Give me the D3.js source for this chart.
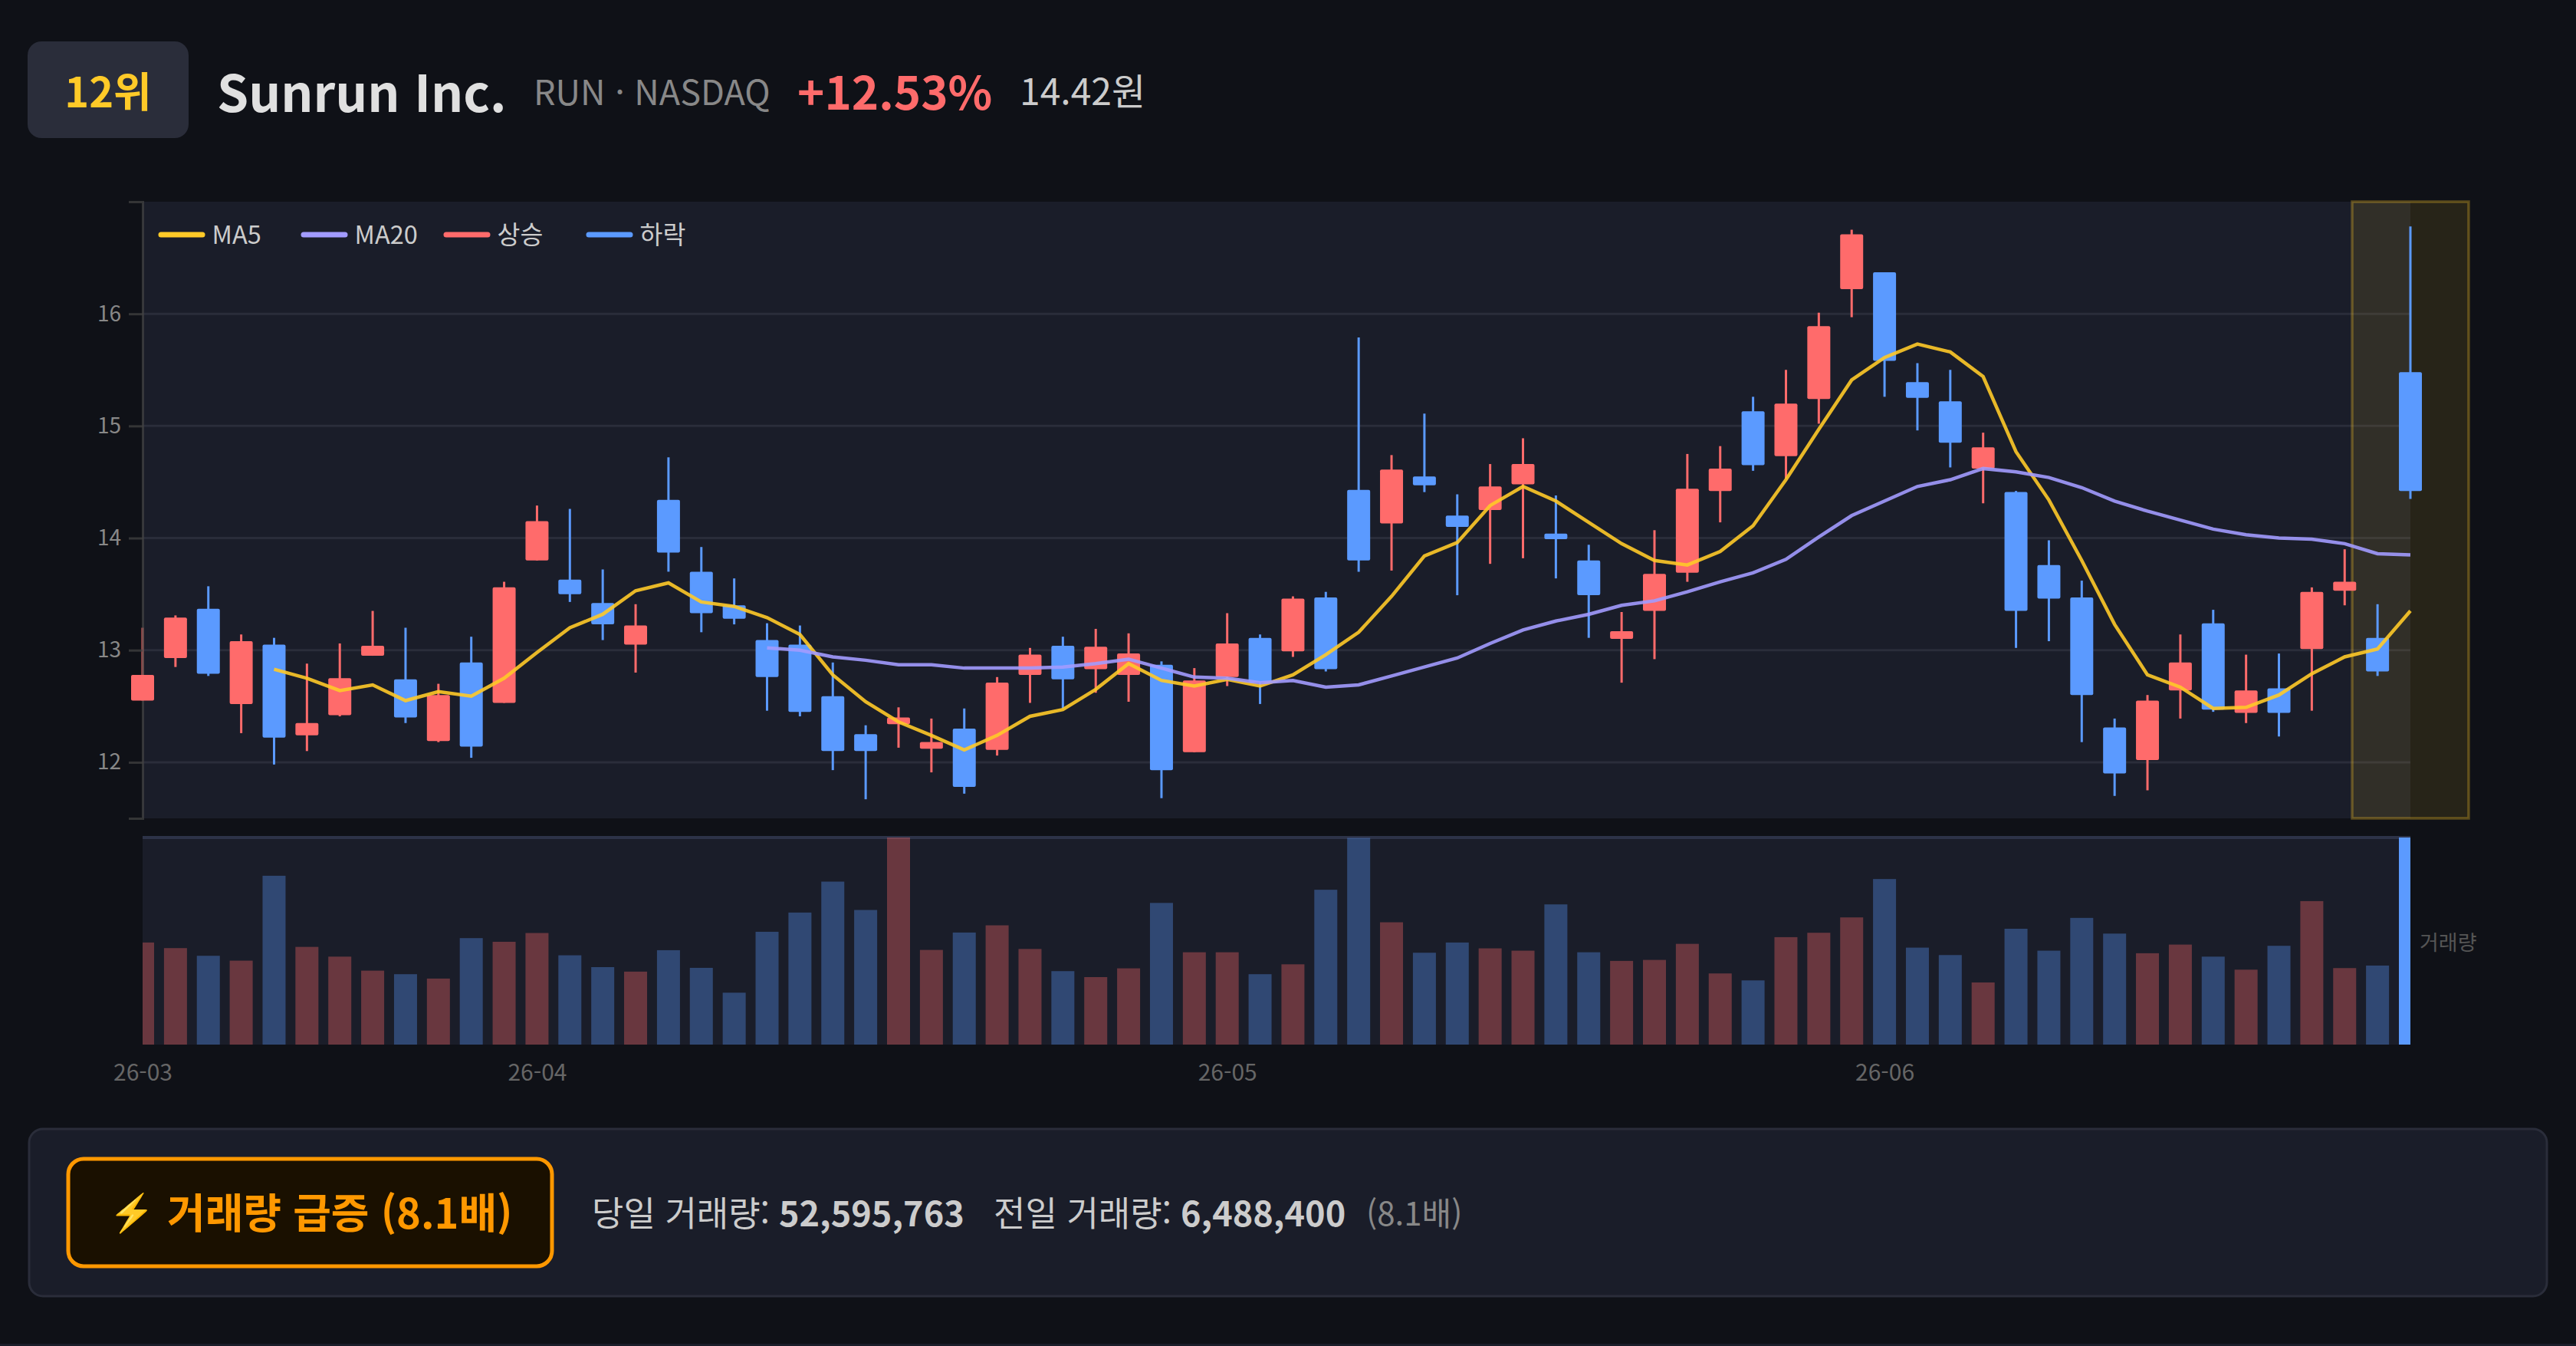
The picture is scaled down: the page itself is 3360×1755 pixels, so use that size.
<!DOCTYPE html>
<html lang="ko">
<head>
<meta charset="utf-8">
<title>Sunrun Inc.</title>
<script src="https://cdn.jsdelivr.net/npm/d3@7"></script>
<style>
  html, body { margin: 0; padding: 0; background: #0f1117; }
  svg { display: block; }
  text { font-family: "Noto Sans CJK KR", "Noto Sans", sans-serif; }
</style>
</head>
<body>
<div id="app"></div>
<script>
const opens = [
  12.55, 12.93, 13.37, 12.52, 13.05, 12.24, 12.42, 12.95, 12.74, 12.19,
  12.89, 12.53, 13.80, 13.63, 13.42, 13.05, 14.34, 13.70, 13.40, 13.09,
  13.05, 12.59, 12.25, 12.34, 12.12, 12.30, 12.11, 12.78, 13.04, 12.83,
  12.78, 12.87, 12.09, 12.76, 13.11, 12.99, 13.47, 14.43, 14.13, 14.55,
  14.20, 14.25, 14.48, 14.04, 13.80, 13.10, 13.35, 13.69, 14.42, 15.13,
  14.73, 15.24, 16.22, 16.37, 15.39, 15.22, 14.62, 14.41, 13.76, 13.47,
  12.31, 12.02, 12.64, 13.24, 12.44, 12.66, 13.01, 13.53, 13.11, 15.48
];
const closes = [
  12.78, 13.29, 12.79, 13.08, 12.22, 12.35, 12.75, 13.04, 12.40, 12.60,
  12.14, 13.56, 14.15, 13.50, 13.23, 13.22, 13.87, 13.33, 13.28, 12.76,
  12.45, 12.10, 12.10, 12.40, 12.18, 11.78, 12.71, 12.96, 12.74, 13.03,
  12.97, 11.93, 12.73, 13.06, 12.71, 13.46, 12.83, 13.80, 14.61, 14.47,
  14.10, 14.46, 14.66, 13.99, 13.49, 13.17, 13.68, 14.44, 14.62, 14.65,
  15.20, 15.89, 16.71, 15.58, 15.25, 14.85, 14.81, 13.35, 13.46, 12.60,
  11.90, 12.55, 12.89, 12.47, 12.64, 12.44, 13.52, 13.61, 12.81, 14.42
];
const highs = [
  13.20, 13.31, 13.57, 13.14, 13.11, 12.88, 13.06, 13.35, 13.20, 12.70,
  13.12, 13.61, 14.29, 14.26, 13.72, 13.41, 14.72, 13.92, 13.64, 13.24,
  13.22, 12.89, 12.33, 12.49, 12.39, 12.48, 12.76, 13.02, 13.12, 13.19,
  13.15, 12.90, 12.84, 13.33, 13.14, 13.48, 13.52, 15.79, 14.74, 15.11,
  14.39, 14.66, 14.89, 14.38, 13.94, 13.34, 14.07, 14.75, 14.82, 15.26,
  15.50, 16.01, 16.75, 16.37, 15.56, 15.50, 14.94, 14.42, 13.98, 13.62,
  12.39, 12.60, 13.14, 13.36, 12.96, 12.97, 13.56, 13.90, 13.41, 16.78
];
const lows = [
  12.55, 12.85, 12.77, 12.26, 11.98, 12.10, 12.41, 12.95, 12.35, 12.18,
  12.04, 12.53, 13.80, 13.43, 13.09, 12.80, 13.70, 13.16, 13.23, 12.46,
  12.41, 11.93, 11.67, 12.13, 11.91, 11.72, 12.06, 12.53, 12.48, 12.62,
  12.54, 11.68, 12.09, 12.68, 12.52, 12.94, 12.81, 13.70, 13.71, 14.41,
  13.49, 13.77, 13.82, 13.64, 13.11, 12.71, 12.92, 13.61, 14.14, 14.60,
  14.53, 15.02, 15.97, 15.26, 14.96, 14.63, 14.31, 13.02, 13.08, 12.18,
  11.70, 11.75, 12.39, 12.45, 12.35, 12.23, 12.46, 13.40, 12.77, 14.35
];
// million shares, the last one runs far off the panel
const volumes = [
  8.38, 7.92, 7.29, 6.89, 13.86, 8.02, 7.22, 6.07, 5.78, 5.42,
  8.74, 8.44, 9.16, 7.33, 6.36, 5.99, 7.75, 6.30, 4.26, 9.26,
  10.84, 13.38, 11.05, 17.0, 7.77, 9.20, 9.79, 7.85, 6.03, 5.54,
  6.26, 11.63, 7.58, 7.58, 5.78, 6.59, 12.71, 16.97, 10.04, 7.54,
  8.38, 7.90, 7.71, 11.51, 7.58, 6.87, 6.95, 8.27, 5.84, 5.27,
  8.82, 9.18, 10.44, 13.59, 7.96, 7.35, 5.10, 9.51, 7.71, 10.40,
  9.11, 7.50, 8.21, 7.22, 6.15, 8.11, 11.78, 6.28, 6.4884, 52.595763
];
const ma5 = [
  null, null, null, null, 12.83, 12.75, 12.64, 12.69, 12.55, 12.63,
  12.59, 12.75, 12.98, 13.20, 13.32, 13.53, 13.60, 13.43, 13.39, 13.29,
  13.14, 12.78, 12.54, 12.36, 12.24, 12.11, 12.24, 12.41, 12.47, 12.65,
  12.88, 12.73, 12.68, 12.74, 12.68, 12.78, 12.96, 13.16, 13.48, 13.84,
  13.96, 14.29, 14.46, 14.33, 14.14, 13.95, 13.80, 13.76, 13.88, 14.11,
  14.52, 14.97, 15.41, 15.61, 15.73, 15.66, 15.44, 14.77, 14.34, 13.80,
  13.23, 12.78, 12.67, 12.48, 12.49, 12.60, 12.79, 12.94, 13.01, 13.35
];
const ma20 = [
  null, null, null, null, null, null, null, null, null, null,
  null, null, null, null, null, null, null, null, null, 13.02,
  13.00, 12.94, 12.91, 12.87, 12.87, 12.84, 12.84, 12.84, 12.85, 12.88,
  12.92, 12.84, 12.76, 12.75, 12.71, 12.73, 12.67, 12.69, 12.77, 12.85,
  12.93, 13.06, 13.18, 13.26, 13.32, 13.40, 13.44, 13.52, 13.61, 13.69,
  13.81, 14.01, 14.20, 14.33, 14.46, 14.52, 14.62, 14.59, 14.54, 14.45,
  14.33, 14.24, 14.16, 14.08, 14.03, 14.00, 13.99, 13.95, 13.86, 13.85
];
const priceTicks = [12, 13, 14, 15, 16];
const monthIndex = [0, 12, 33, 53];
const monthLabels = ['26-03', '26-04', '26-05', '26-06'];
const legendNames = ['MA5', 'MA20', '상승', '하락'];

const UP = '#ff6b6b';
const DOWN = '#5b9aff';
const GOLD = '#ffca28';
const VIOLET = '#a29bfe';
const PANEL = '#1a1d29';

const svg = d3.select('#app')
  .append('svg')
  .attr('width', 3360)
  .attr('height', 1755)
  .attr('viewBox', '0 0 3360 1755');

const addText = (x, y, str, size, color, weight = 400, anchor = 'start') =>
  svg.append('text')
    .attr('x', x)
    .attr('y', y)
    .attr('font-size', size)
    .attr('font-weight', weight)
    .attr('fill', color)
    .attr('text-anchor', anchor)
    .text(str);

const xLeft = 186;
const xRight = 3144;
const x = d3.scaleLinear().domain([0, opens.length - 1]).range([xLeft, xRight]);
const y = d3.scaleLinear().domain([11.5, 17]).range([1067, 263]);
const yVol = d3.scaleLinear().domain([0, 17]).range([1362, 1092]);
const bodyWidth = 30;
const isUp = (i) => closes[i] >= opens[i];

/**
 * Header row
 */
const drawHeader = () => {
  svg.append('rect')
    .attr('x', 36).attr('y', 54)
    .attr('width', 210).attr('height', 126)
    .attr('rx', 18)
    .attr('fill', '#2a2d3a');
  addText(141, 140, '12위', 54, GOLD, 700, 'middle');
  addText(283, 146, 'Sunrun Inc.', 66, '#e0e0e0', 700);
  addText(696, 137, 'RUN · NASDAQ', 45, '#888888');
  addText(1040, 143, '+12.53%', 60, UP, 700);
  addText(1330, 137, '14.42원', 48, '#cccccc');
};

/**
 * Price panel: background, grid, wicks, axis, highlight, bodies, moving averages
 */
const drawPrice = () => {
  svg.append('rect')
    .attr('x', xLeft).attr('y', y(17))
    .attr('width', xRight - xLeft).attr('height', y(11.5) - y(17))
    .attr('fill', PANEL);

  svg.append('g')
    .selectAll('line')
    .data(priceTicks)
    .enter()
    .append('line')
    .attr('x1', xLeft)
    .attr('x2', xRight)
    .attr('y1', (d) => y(d))
    .attr('y2', (d) => y(d))
    .attr('stroke', '#2a2d3a')
    .attr('stroke-width', 3);

  // highlight on the latest session
  svg.append('rect')
    .attr('x', x(69) - 76)
    .attr('y', y(17))
    .attr('width', 152)
    .attr('height', y(11.5) - y(17))
    .attr('fill', GOLD)
    .attr('fill-opacity', 0.1)
    .attr('stroke', GOLD)
    .attr('stroke-opacity', 0.3)
    .attr('stroke-width', 3.5);

  const indices = d3.range(opens.length);

  svg.append('g')
    .selectAll('line')
    .data(indices)
    .enter()
    .append('line')
    .attr('x1', (i) => x(i))
    .attr('x2', (i) => x(i))
    .attr('y1', (i) => y(highs[i]))
    .attr('y2', (i) => y(lows[i]))
    .attr('stroke', (i) => (isUp(i) ? UP : DOWN))
    .attr('stroke-width', 3);

  // the axis runs over the first wick but under the first body
  const axis = svg.append('g')
    .attr('transform', `translate(${xLeft},0)`)
    .call(d3.axisLeft(y)
      .tickValues(priceTicks)
      .tickFormat(d3.format('d'))
      .tickSizeInner(18)
      .tickSizeOuter(18)
      .tickPadding(10));
  axis.selectAll('path, line')
    .attr('stroke', '#444444')
    .attr('stroke-opacity', 0.7)
    .attr('stroke-width', 3);
  axis.selectAll('text')
    .attr('font-size', 28)
    .attr('font-family', '"Noto Sans CJK KR", sans-serif')
    .attr('fill', '#888888');

  svg.append('g')
    .selectAll('rect')
    .data(indices)
    .enter()
    .append('rect')
    .attr('x', (i) => x(i) - bodyWidth / 2)
    .attr('y', (i) => y(Math.max(opens[i], closes[i])))
    .attr('width', bodyWidth)
    .attr('height', (i) => Math.abs(y(opens[i]) - y(closes[i])))
    .attr('rx', 2)
    .attr('fill', (i) => (isUp(i) ? UP : DOWN));

  const line = d3.line()
    .defined((d) => d !== null)
    .x((d, i) => x(i))
    .y((d) => y(d));

  svg.append('path')
    .attr('d', line(ma5))
    .attr('fill', 'none')
    .attr('stroke', GOLD)
    .attr('stroke-opacity', 0.9)
    .attr('stroke-width', 4.5);

  svg.append('path')
    .attr('d', line(ma20))
    .attr('fill', 'none')
    .attr('stroke', VIOLET)
    .attr('stroke-opacity', 0.9)
    .attr('stroke-width', 4.5);
};

const drawLegend = () => {
  const legendColors = [GOLD, VIOLET, UP, DOWN];
  const items = svg.append('g')
    .selectAll('g')
    .data(legendNames)
    .enter()
    .append('g')
    .attr('transform', (d, i) => `translate(${206.5 + i * 186},306)`);

  items.append('rect')
    .attr('y', -3.5)
    .attr('width', 61)
    .attr('height', 7)
    .attr('rx', 3.5)
    .attr('fill', (d, i) => legendColors[i]);

  items.append('text')
    .attr('x', 70)
    .attr('y', 12)
    .attr('font-size', 32.5)
    .attr('fill', '#cccccc')
    .text((d) => d);
};

/**
 * Volume panel, bars clipped to the panel
 */
const drawVolume = () => {
  svg.append('clipPath')
    .attr('id', 'vol-clip')
    .append('rect')
    .attr('x', xLeft).attr('y', yVol(17))
    .attr('width', xRight - xLeft).attr('height', yVol(0) - yVol(17));

  svg.append('rect')
    .attr('x', xLeft).attr('y', yVol(17))
    .attr('width', xRight - xLeft).attr('height', yVol(0) - yVol(17))
    .attr('fill', PANEL);

  svg.append('line')
    .attr('x1', xLeft)
    .attr('x2', xRight)
    .attr('y1', yVol(17))
    .attr('y2', yVol(17))
    .attr('stroke', '#2d3348')
    .attr('stroke-width', 4);

  svg.append('g')
    .attr('clip-path', 'url(#vol-clip)')
    .selectAll('rect')
    .data(volumes)
    .enter()
    .append('rect')
    .attr('x', (d, i) => x(i) - bodyWidth / 2)
    .attr('y', (d) => yVol(d))
    .attr('width', bodyWidth)
    .attr('height', (d) => yVol(0) - yVol(d))
    .attr('fill', (d, i) => (isUp(i) ? UP : DOWN))
    .attr('fill-opacity', (d, i) => (i === volumes.length - 1 ? 1 : 0.35));

  addText(3156, 1239, '거래량', 27, '#555555');

  const axis = svg.append('g')
    .attr('transform', 'translate(0,1362)')
    .call(d3.axisBottom(x)
      .tickValues(monthIndex)
      .tickFormat((d, i) => monthLabels[i])
      .tickSize(0)
      .tickPadding(26));
  axis.select('.domain').remove();
  axis.selectAll('text')
    .attr('font-size', 30)
    .attr('font-family', '"Noto Sans CJK KR", sans-serif')
    .attr('fill', '#666666');
};

const drawFooter = () => {
  svg.append('rect')
    .attr('x', 38).attr('y', 1472)
    .attr('width', 3284).attr('height', 218)
    .attr('rx', 18)
    .attr('fill', PANEL)
    .attr('stroke', '#2a2d3a')
    .attr('stroke-width', 3);

  svg.append('rect')
    .attr('x', 89).attr('y', 1511)
    .attr('width', 631).attr('height', 140)
    .attr('rx', 20)
    .attr('fill', '#1a1000')
    .attr('stroke', '#ff9800')
    .attr('stroke-width', 5);

  addText(142, 1598, '⚡', 48, '#ff9800', 700);
  addText(218, 1602, '거래량 급증 (8.1배)', 54, '#ff9800', 700);

  addText(772, 1599, '당일 거래량:', 45, '#cccccc');
  addText(1016, 1599, '52,595,763', 45, '#cccccc', 700);
  addText(1296, 1599, '전일 거래량:', 45, '#cccccc');
  addText(1540, 1599, '6,488,400', 45, '#cccccc', 700);
  addText(1782, 1598, '(8.1배)', 42, '#888888');

  svg.append('rect')
    .attr('x', 0).attr('y', 1752)
    .attr('width', 3360).attr('height', 3)
    .attr('fill', PANEL);
};

drawHeader();
drawPrice();
drawLegend();
drawVolume();
drawFooter();
</script>
</body>
</html>
